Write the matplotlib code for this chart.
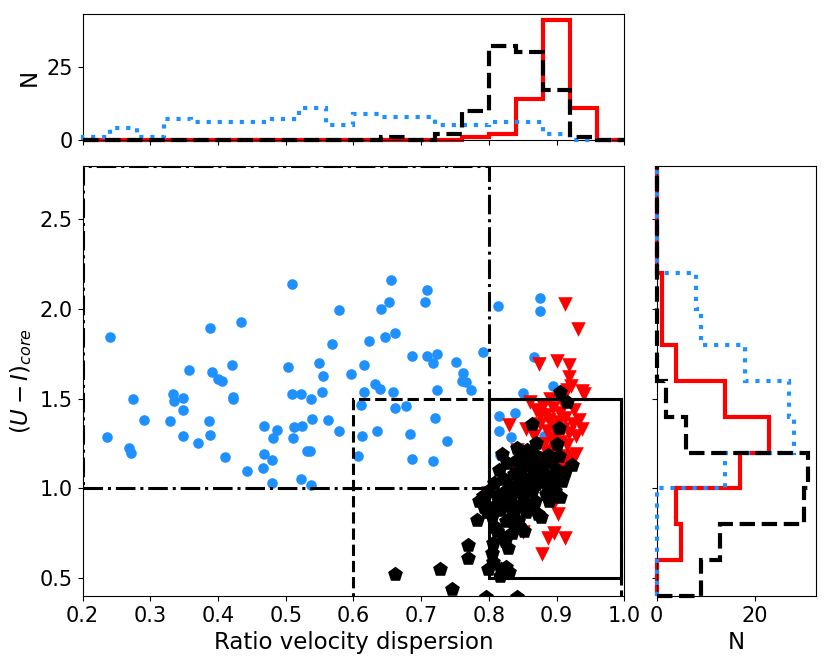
import matplotlib
matplotlib.use("Agg")
import matplotlib.pyplot as plt
from matplotlib.patches import Rectangle
import numpy as np

# ---------------- data ----------------
blue_x = [0.240, 0.236, 0.269, 0.271, 0.274, 0.291, 0.329, 0.333, 0.335, 0.349,
          0.349, 0.349, 0.357, 0.371, 0.386, 0.388, 0.388, 0.391, 0.400, 0.406,
          0.411, 0.421, 0.422, 0.422, 0.434, 0.443, 0.466, 0.468, 0.468, 0.479,
          0.479, 0.481, 0.487, 0.504, 0.509, 0.509, 0.511, 0.512, 0.522, 0.523,
          0.524, 0.532, 0.536, 0.537, 0.537, 0.539, 0.549, 0.553, 0.555, 0.562,
          0.568, 0.579, 0.579, 0.596, 0.607, 0.612, 0.611, 0.615, 0.615, 0.623,
          0.632, 0.635, 0.639, 0.641, 0.646, 0.652, 0.656, 0.659, 0.661, 0.662,
          0.678, 0.683, 0.686, 0.686, 0.706, 0.709, 0.709, 0.718, 0.718, 0.721,
          0.724, 0.724, 0.738, 0.752, 0.762, 0.761, 0.766, 0.773, 0.791, 0.813,
          0.815, 0.815, 0.833, 0.838, 0.817, 0.850, 0.866, 0.875, 0.876, 0.882,
          0.895, 0.846]
blue_y = [1.846, 1.289, 1.224, 1.200, 1.501, 1.384, 1.377, 1.529, 1.486, 1.503,
          1.440, 1.295, 1.660, 1.252, 1.377, 1.896, 1.299, 1.651, 1.609, 1.599,
          1.174, 1.690, 1.510, 1.497, 1.931, 1.096, 1.115, 1.193, 1.347, 1.030,
          1.156, 1.280, 1.325, 1.679, 2.139, 1.529, 1.282, 1.345, 1.052, 1.527,
          1.347, 1.210, 1.206, 1.501, 1.019, 1.386, 1.698, 1.536, 1.627, 1.384,
          1.804, 1.994, 1.321, 1.636, 1.182, 1.295, 1.464, 1.536, 1.688, 1.824,
          1.584, 1.321, 1.557, 2.000, 1.842, 2.039, 2.160, 1.536, 1.451, 1.865,
          1.460, 1.306, 1.737, 1.163, 2.039, 2.109, 1.737, 1.698, 1.154, 1.390,
          1.751, 1.551, 1.267, 1.703, 1.644, 1.597, 1.592, 1.547, 1.763, 2.020,
          1.406, 1.321, 1.289, 1.419, 1.187, 1.531, 1.735, 2.063, 1.987, 1.295,
          1.570, 1.076]

red_x = [0.912, 0.932, 0.874, 0.900, 0.919, 0.919, 0.921, 0.937, 0.940, 0.861,
         0.890, 0.880, 0.875, 0.829, 0.799, 0.896, 0.850, 0.888, 0.896, 0.912,
         0.879, 0.835, 0.900, 0.841,
         0.895, 0.905, 0.910, 0.925, 0.885, 0.915, 0.870,
         0.855, 0.866, 0.876, 0.882, 0.886, 0.889, 0.892, 0.895, 0.898, 0.901,
         0.904, 0.907, 0.910, 0.913, 0.916, 0.918, 0.884, 0.924, 0.928, 0.933,
         0.938,
         0.858, 0.869, 0.878, 0.883, 0.887, 0.893, 0.897, 0.902, 0.906, 0.909,
         0.914, 0.917, 0.891, 0.923, 0.929,
         0.865, 0.902]
red_y = [2.026, 1.888, 1.695, 1.708, 1.686, 1.620, 1.573, 1.545, 1.525, 1.480,
         1.498, 1.460, 1.408, 1.352, 0.974, 0.918, 0.758, 0.721, 0.753, 0.721,
         0.633, 1.115, 1.030, 1.217,
         1.450, 1.420, 1.470, 1.440, 1.410, 1.550, 1.440,
         1.330, 1.290, 1.360, 1.250, 1.320, 1.380, 1.280, 1.350, 1.220, 1.300,
         1.370, 1.260, 1.330, 1.390, 1.240, 1.310, 1.210, 1.360, 1.290, 1.380,
         1.330,
         1.120, 1.050, 1.170, 1.090, 1.150, 1.020, 1.190, 1.110, 1.160, 1.070,
         1.130, 1.180, 1.060, 1.160, 1.190,
         0.880, 0.860]

black_x = [0.662, 0.728, 0.745, 0.769, 0.769, 0.795, 0.799, 0.804, 0.816, 0.829,
           0.841, 0.783, 0.793, 0.922, 0.905, 0.915, 0.864, 0.903, 0.901, 0.869,
           0.888, 0.856, 0.806, 0.821, 0.834, 0.809, 0.806, 0.826, 0.818,
           0.812, 0.824, 0.838, 0.845, 0.828, 0.852, 0.842,
           0.785, 0.792, 0.797, 0.798, 0.805, 0.810, 0.812, 0.817, 0.819, 0.822,
           0.826, 0.829, 0.832, 0.836, 0.839, 0.843, 0.846, 0.850, 0.855, 0.860,
           0.864, 0.868, 0.872, 0.877, 0.884, 0.889, 0.898, 0.905,
           0.808, 0.815, 0.819, 0.823, 0.827, 0.833, 0.837, 0.842, 0.845, 0.848,
           0.851, 0.854, 0.857, 0.860, 0.863, 0.866, 0.869, 0.872, 0.874, 0.877,
           0.879, 0.883, 0.886, 0.890, 0.894, 0.899, 0.903, 0.908, 0.913]
black_y = [0.525, 0.553, 0.441, 0.684, 0.612, 0.396, 0.553, 0.637, 0.510, 0.534,
           0.392, 0.826, 0.899, 1.128, 1.536, 1.480, 1.358, 1.339, 1.245, 1.255,
           1.189, 1.217, 0.693, 0.730, 0.749, 0.786, 0.590, 0.560, 0.548,
           0.762, 0.705, 0.778, 0.790, 0.668, 0.765, 1.228,
           0.930, 0.960, 0.870, 0.985, 0.845, 0.905, 0.960, 0.880, 0.930, 0.980,
           0.820, 0.905, 0.950, 0.860, 0.995, 0.820, 0.905, 0.955, 0.870, 0.900,
           0.985, 0.930, 0.855, 0.840, 0.970, 0.930, 0.985, 0.950,
           1.030, 1.100, 1.190, 1.050, 1.140, 1.010, 1.080, 1.160, 1.030, 1.110,
           1.060, 1.180, 1.005, 1.130, 1.070, 1.190, 1.025, 1.100, 1.160, 1.050,
           1.135, 1.080, 1.020, 1.150, 1.060, 1.110, 1.180, 1.040, 1.090]

# top histogram (ratio velocity dispersion), bins 0.20 .. 1.00 step 0.04
top_edges = np.round(np.arange(0.20, 1.0001, 0.04), 2)
top_red   = [0, 0, 0, 0, 0, 0, 0, 0, 0, 0, 0, 0, 0, 0, 1, 2, 14, 41, 11, 0]
top_blue  = [1, 4, 1, 7, 6, 6, 6, 7, 11, 5, 9, 8, 8, 5, 5, 6, 6, 2, 0, 0]
top_black = [0, 0, 0, 0, 0, 0, 0, 0, 0, 0, 0, 1, 0, 2, 10, 32, 30, 17, 1, 0]

# right histogram (U-I core), bins 0.4 .. 2.8 step 0.2
right_edges = np.round(np.arange(0.4, 2.8001, 0.2), 1)
right_red   = [0, 5, 4, 17, 23, 14, 4, 1, 1, 0, 0, 0]
right_blue  = [0, 0, 0, 14, 28, 27, 18, 9, 8, 0, 0, 0]
right_black = [9, 13, 30, 31, 6, 2, 0, 0, 0, 0, 0, 0]

# selection boxes: (x0, y0, width, height)
box_dashdot = (0.2, 1.0, 0.6, 1.8)
box_dashed = (0.6, 0.0, 0.395, 1.5)
box_solid = (0.8, 0.5, 0.195, 1.0)

BLUE = "#1E90FF"
RED = "#FF0000"

# ---------------- figure ----------------
fig = plt.figure(figsize=(8.3, 6.65), dpi=100)
ax = fig.add_axes([0.0995, 0.1038, 0.6527, 0.647])
axt = fig.add_axes([0.0995, 0.7895, 0.6527, 0.1895])
axr = fig.add_axes([0.7912, 0.1038, 0.192, 0.647])

TICK = 15
LAB = 16.5

ax.scatter(blue_x, blue_y, s=58, marker="o", color=BLUE, zorder=3, linewidths=0)
ax.scatter(red_x, red_y, s=110, marker="v", color=RED, zorder=4, linewidths=0)
ax.scatter(black_x, black_y, s=125, marker="p", color="black", zorder=5, linewidths=0)

for (x0, y0, w, h), ls in [(box_dashdot, "-."), (box_dashed, "--"), (box_solid, "-")]:
    ax.add_patch(Rectangle((x0, y0), w, h, fill=False, ls=ls, lw=2.2,
                           edgecolor="black", zorder=6))

ax.set_xlim(0.2, 1.0)
ax.set_ylim(0.4, 2.8)
ax.set_xticks(np.round(np.arange(0.2, 1.0001, 0.1), 1))
ax.set_yticks([0.5, 1.0, 1.5, 2.0, 2.5])
ax.tick_params(labelsize=TICK)
ax.set_xlabel("Ratio velocity dispersion", fontsize=LAB)
ax.set_ylabel(r"$(U-I)_{core}$", fontsize=LAB)

# top histogram
axt.stairs(top_red, top_edges, color=RED, lw=3, ls="-", zorder=2, clip_on=False)
axt.stairs(top_blue, top_edges, color=BLUE, lw=3, ls=":", zorder=3, clip_on=False)
axt.stairs(top_black, top_edges, color="black", lw=3, ls="--", zorder=4, clip_on=False)
axt.set_xlim(0.2, 1.0)
axt.set_ylim(0, 43.05)
axt.set_xticks(np.round(np.arange(0.2, 1.0001, 0.1), 1))
axt.set_xticklabels([])
axt.set_yticks([0, 25])
axt.tick_params(labelsize=TICK)
axt.set_ylabel("N", fontsize=LAB)

# right histogram
axr.stairs(right_red, right_edges, orientation="horizontal", color=RED, lw=3, ls="-",
           zorder=2, clip_on=False)
axr.stairs(right_blue, right_edges, orientation="horizontal", color=BLUE, lw=3, ls=":",
           zorder=3, clip_on=False)
axr.stairs(right_black, right_edges, orientation="horizontal", color="black", lw=3, ls="--",
           zorder=4, clip_on=False)
axr.set_ylim(0.4, 2.8)
axr.set_xlim(0, 32.55)
axr.set_yticks([0.5, 1.0, 1.5, 2.0, 2.5])
axr.set_yticklabels([])
axr.set_xticks([0, 20])
axr.tick_params(labelsize=TICK)
axr.set_xlabel("N", fontsize=LAB)

fig.savefig("out.png", dpi=100)
